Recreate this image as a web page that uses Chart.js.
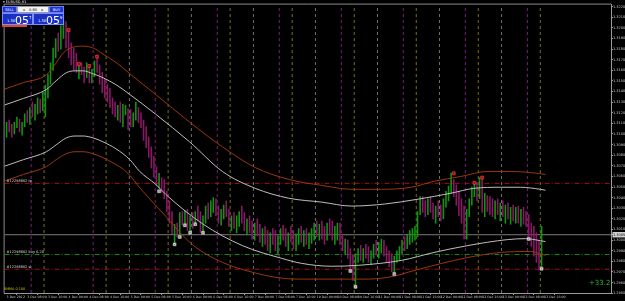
<!DOCTYPE html>
<html><head><meta charset="utf-8">
<script src="https://cdn.jsdelivr.net/npm/chart.js@4.4.1/dist/chart.umd.min.js"></script>
<style>
html,body{margin:0;padding:0;background:#000;}
#wrap{position:relative;width:625px;height:301px;overflow:hidden;background:#000;}
#c{position:absolute;left:0;top:0;}
.ov{position:absolute;font-family:'DejaVu Sans',sans-serif;white-space:nowrap;line-height:1;}
.btn{position:absolute;background:#2036c8;color:#fff;font-size:3.6px;text-align:center;border:0.5px solid #6a80ff;box-sizing:border-box;}
.big{position:absolute;background:#1a30c4;border:0.5px solid #7a8cff;box-sizing:border-box;color:#fff;}
</style></head><body>
<div id="wrap">
<canvas id="c" width="625" height="301"></canvas>
<div class="ov" style="left:3px;top:1px;font-size:3.5px;color:#e0e0e0;">▾ EURUSD,H1</div>
<div class="ov" style="left:2px;top:6px;width:62px;height:19px;">
  <div class="btn" style="left:0;top:0;width:15px;height:7px;line-height:7px;">SELL</div>
  <div class="btn" style="left:15px;top:0;width:32px;height:7px;line-height:7px;background:#f2f2f2;color:#111;border-color:#999;">◂&nbsp;&nbsp;&nbsp;&nbsp;0.80&nbsp;&nbsp;&nbsp;&nbsp;▸</div>
  <div class="btn" style="left:47px;top:0;width:15px;height:7px;line-height:7px;">BUY</div>
  <div class="big" style="left:0;top:7px;width:31px;height:12px;">
    <span class="ov" style="left:4px;top:6px;font-size:3.6px;">1.30</span>
    <span class="ov" style="left:12px;top:1px;font-size:11px;">05</span>
    <span class="ov" style="left:26px;top:1.5px;font-size:4px;">7</span>
  </div>
  <div class="big" style="left:31px;top:7px;width:31px;height:12px;">
    <span class="ov" style="left:4px;top:6px;font-size:3.6px;">1.30</span>
    <span class="ov" style="left:12px;top:1px;font-size:11px;">05</span>
    <span class="ov" style="left:26px;top:1.5px;font-size:4px;">9</span>
  </div>
</div>
<div class="ov" style="left:2px;top:25px;width:25px;height:2px;background:#e0461e;"></div>
<div class="ov" style="left:4px;top:288px;font-size:3.4px;color:#d8c000;">SMMA 0.100</div>
<div class="ov" style="left:589px;top:280px;font-size:7px;color:#2fb82f;">+33.2</div>
</div>
<script>
// ---- data (prices; bars are hourly, x = bar index) ----
const firstOpen = 1.3104;
const highs = [
1.3111,1.3113,1.3109,1.3111,1.3116,1.3114,1.3111,1.3119,1.3122,1.3125,
1.3130,1.3128,1.3134,1.3133,1.3139,1.3146,1.3156,1.3167,1.3181,1.3190,
1.3195,1.3202,1.3207,1.3206,1.3198,1.3186,1.3181,1.3176,1.3166,1.3167,
1.3163,1.3167,1.3164,1.3161,1.3169,1.3173,1.3165,1.3158,1.3152,1.3147,
1.3143,1.3134,1.3130,1.3127,1.3130,1.3128,1.3127,1.3124,1.3123,1.3120,
1.3130,1.3125,1.3120,1.3113,1.3107,1.3097,1.3088,1.3079,1.3069,1.3063,
1.3059,1.3057,1.3046,1.3037,1.3027,1.3015,1.3016,1.3026,1.3027,1.3028,
1.3029,1.3023,1.3026,1.3027,1.3032,1.3027,1.3023,1.3032,1.3035,1.3037,
1.3040,1.3039,1.3032,1.3029,1.3033,1.3037,1.3029,1.3023,1.3026,1.3023,
1.3027,1.3032,1.3026,1.3020,1.3023,1.3018,1.3016,1.3020,1.3015,1.3011,
1.3013,1.3009,1.3007,1.3011,1.3009,1.3004,1.3011,1.3014,1.3011,1.3007,
1.3013,1.3009,1.3006,1.3011,1.3013,1.3009,1.3011,1.3007,1.3011,1.3016,
1.3018,1.3015,1.3018,1.3013,1.3016,1.3020,1.3018,1.3013,1.3016,1.3016,
1.3004,1.3001,1.3000,1.2992,1.2986,1.2987,1.2992,1.2995,1.2992,1.2996,
1.2994,1.2990,1.2996,1.3000,1.2998,1.3001,1.3000,1.2994,1.2990,1.2987,
1.2985,1.2990,1.2994,1.3000,1.3003,1.3005,1.3009,1.3011,1.3013,1.3027,
1.3041,1.3041,1.3037,1.3039,1.3041,1.3035,1.3032,1.3037,1.3033,1.3039,
1.3046,1.3051,1.3063,1.3057,1.3052,1.3046,1.3039,1.3032,1.3029,1.3039,
1.3050,1.3054,1.3054,1.3059,1.3059,1.3044,1.3042,1.3041,1.3039,1.3037,
1.3039,1.3035,1.3037,1.3033,1.3035,1.3031,1.3033,1.3031,1.3032,1.3029,
1.3031,1.3027,1.3024,1.3016,1.3013,1.3007,1.3000,1.3013];
const lows = [
1.3097,1.3102,1.3097,1.3100,1.3106,1.3102,1.3099,1.3107,1.3111,1.3109,
1.3116,1.3113,1.3119,1.3120,1.3122,1.3116,1.3134,1.3147,1.3160,1.3172,
1.3178,1.3180,1.3190,1.3181,1.3172,1.3165,1.3160,1.3158,1.3152,1.3156,
1.3148,1.3153,1.3148,1.3148,1.3154,1.3158,1.3147,1.3139,1.3134,1.3130,
1.3125,1.3119,1.3116,1.3113,1.3111,1.3107,1.3118,1.3104,1.3107,1.3107,
1.3113,1.3111,1.3106,1.3094,1.3087,1.3078,1.3068,1.3059,1.3051,1.3049,
1.3045,1.3039,1.3027,1.3016,1.3006,1.2995,1.3003,1.3003,1.3014,1.3015,
1.3009,1.3007,1.3011,1.3015,1.3018,1.3007,1.3007,1.3016,1.3020,1.3022,
1.3026,1.3023,1.3016,1.3014,1.3020,1.3022,1.3013,1.3009,1.3011,1.3007,
1.3013,1.3016,1.3009,1.3005,1.3007,1.3001,1.3000,1.3004,1.2998,1.2994,
1.2996,1.2990,1.2988,1.2996,1.2990,1.2986,1.2996,1.3000,1.2994,1.2990,
1.2998,1.2992,1.2990,1.2996,1.2998,1.2994,1.2996,1.2992,1.2997,1.3000,
1.3003,1.3000,1.3001,1.2996,1.3000,1.3005,1.3000,1.2996,1.3000,1.2996,
1.2990,1.2987,1.2983,1.2971,1.2962,1.2955,1.2979,1.2981,1.2979,1.2983,
1.2979,1.2977,1.2983,1.2986,1.2983,1.2988,1.2985,1.2979,1.2975,1.2970,
1.2968,1.2979,1.2981,1.2987,1.2990,1.2992,1.2996,1.2998,1.3000,1.3003,
1.3024,1.3026,1.3022,1.3024,1.3026,1.3020,1.3016,1.3022,1.3018,1.3020,
1.3031,1.3037,1.3044,1.3041,1.3033,1.3023,1.3016,1.3001,1.3001,1.3022,
1.3033,1.3041,1.3037,1.3039,1.3026,1.3022,1.3027,1.3024,1.3022,1.3020,
1.3024,1.3018,1.3022,1.3016,1.3020,1.3015,1.3018,1.3016,1.3016,1.3013,
1.3015,1.3013,1.3001,1.2994,1.2985,1.2979,1.2972,1.2974];
const closes = [
1.3107,1.3104,1.3102,1.3109,1.3113,1.3105,1.3108,1.3116,1.3113,1.3120,
1.3119,1.3125,1.3130,1.3124,1.3134,1.3141,1.3153,1.3163,1.3176,1.3186,
1.3181,1.3197,1.3202,1.3186,1.3176,1.3169,1.3165,1.3161,1.3163,1.3158,
1.3154,1.3164,1.3156,1.3158,1.3167,1.3161,1.3150,1.3143,1.3137,1.3134,
1.3128,1.3122,1.3118,1.3124,1.3115,1.3120,1.3122,1.3119,1.3111,1.3117,
1.3127,1.3114,1.3109,1.3098,1.3091,1.3081,1.3072,1.3063,1.3054,1.3057,
1.3055,1.3041,1.3031,1.3020,1.3011,1.3013,1.3009,1.3022,1.3016,1.3026,
1.3013,1.3018,1.3015,1.3024,1.3020,1.3011,1.3020,1.3029,1.3023,1.3032,
1.3037,1.3026,1.3020,1.3026,1.3030,1.3024,1.3016,1.3020,1.3014,1.3018,
1.3024,1.3020,1.3013,1.3016,1.3011,1.3007,1.3013,1.3008,1.3001,1.3005,
1.3000,1.2995,1.3003,1.3000,1.2993,1.3000,1.3007,1.3003,1.2998,1.3004,
1.3001,1.2996,1.3001,1.3007,1.3001,1.3003,1.2999,1.3001,1.3004,1.3013,
1.3007,1.3011,1.3005,1.3001,1.3013,1.3009,1.3003,1.3009,1.3015,1.3000,
1.2994,1.2998,1.2987,1.2975,1.2966,1.2985,1.2988,1.2985,1.2990,1.2987,
1.2983,1.2988,1.2994,1.2988,1.2992,1.2998,1.2988,1.2983,1.2979,1.2974,
1.2981,1.2985,1.2990,1.2996,1.2994,1.3001,1.3003,1.3007,1.3009,1.3026,
1.3037,1.3029,1.3026,1.3035,1.3029,1.3024,1.3027,1.3026,1.3022,1.3035,
1.3041,1.3048,1.3057,1.3044,1.3037,1.3026,1.3020,1.3005,1.3026,1.3037,
1.3046,1.3050,1.3041,1.3055,1.3029,1.3037,1.3033,1.3029,1.3026,1.3033,
1.3027,1.3031,1.3026,1.3029,1.3024,1.3027,1.3022,1.3027,1.3020,1.3026,
1.3018,1.3016,1.3003,1.2996,1.2988,1.2983,1.2975,1.3005];

// band indicator (outer = orange, inner = white), sampled at bar index
const orangeUpX = [-1.2,6.5,15.4,19.2,21.9,24.6,29.6,33.5,37.3,43.1,47.7,57.7,70.8,83.5,96.2,109.2,121.9,133.5,145,156.5,165.4,175.8,186.2,195,202.7,208.5];
const orangeUp  = [1.31419,1.31484,1.31558,1.31670,1.31763,1.31809,1.31828,1.31809,1.31754,1.31660,1.31567,1.31372,1.31112,1.30879,1.30684,1.30572,1.30516,1.30479,1.30479,1.30498,1.30554,1.30600,1.30647,1.30647,1.30637,1.30619];
const whiteUpX  = [-1.2,6.5,15.4,19.2,23.1,26.5,29.6,33.5,37.3,42.3,47.7,57.7,70.8,83.5,96.2,109.2,121.9,133.5,146.2,159.2,171.9,180.8,191.2,198.8,206.5,208.5];
const whiteUp   = [1.31270,1.31335,1.31419,1.31502,1.31577,1.31595,1.31595,1.31567,1.31530,1.31465,1.31372,1.31186,1.30926,1.30647,1.30488,1.30395,1.30358,1.30321,1.30340,1.30386,1.30442,1.30488,1.30498,1.30498,1.30479,1.30470];
const whiteLowX = [-1.2,6.5,15.4,19.2,23.1,26.5,29.6,33.5,37.3,42.3,47.7,51.5,57.7,61.5,75.8,91.2,106.5,114.2,125.8,136.2,152.7,165.4,178.5,193.8,200.8,206.5,208.5];
const whiteLow  = [1.30693,1.30758,1.30833,1.30898,1.30963,1.30981,1.30981,1.30963,1.30926,1.30861,1.30758,1.30647,1.30526,1.30433,1.30154,1.29949,1.29828,1.29781,1.29754,1.29763,1.29809,1.29884,1.29949,1.30005,1.30014,1.29995,1.29986];
const orangeLowX = [-1.2,6.5,15.4,19.2,23.1,26.5,29.6,33.5,37.3,42.3,46.2,52.7,60.4,71.9,83.5,95,106.5,114.2,140,150,155.4,165.4,178.5,191.2,202.7,208.5];
const orangeLow  = [1.30554,1.30619,1.30693,1.30758,1.30814,1.30833,1.30833,1.30814,1.30777,1.30712,1.30647,1.30461,1.30256,1.29958,1.29791,1.29698,1.29642,1.29633,1.29633,1.29661,1.29698,1.29763,1.29837,1.29884,1.29893,1.29856];

// fractal markers
const lowMarkX = [59,65,67,69,71,73,76,133,135,150,202,207];
const lowMarkY = [1.3046,1.2996,1.3003,1.3014,1.3007,1.3015,1.3007,1.2971,1.2956,1.2968,1.3001,1.2973];
const highMarkX = [24,28,32,35,173,181,184];
const highMarkY = [1.3198,1.3166,1.3164,1.3173,1.3063,1.3054,1.3059];

// order levels
const orderLevels = [1.30535, 1.29865, 1.29726];
const orderLabels = ['#12298862 tp', '#12298862 buy 0.20', '#12298862 sl'];
const orderColors = ['#a01212', '#1c861c', '#a01212'];
const bidPrice = 1.30051;

// session separators (bar index)
const grayLines   = [47.5,71.5,95.5,119.5,143.5,167.5,191.5];
const purpleLines = [9.5,33.5,57.5,81.5,105.5,129.5,153.5,177.5,201.5];
const yellowLines = [14.5,38.5,62.5,86.5,110.5,134.5,158.5,182.5,206.5];

// axis labels
const timeTickBars = [0,8,16,24,32,40,48,56,64,72,80,88,96,104,112,120,128,136,144,152,160,168,176,184,192,200,208];
const timeLabels = ['3 Dec 2012','3 Dec 08:00','3 Dec 16:00','4 Dec 00:00','4 Dec 08:00','4 Dec 16:00','5 Dec 00:00','5 Dec 08:00','5 Dec 16:00','6 Dec 00:00','6 Dec 08:00','6 Dec 16:00','7 Dec 00:00','7 Dec 08:00','7 Dec 16:00','10 Dec 00:00','10 Dec 08:00','10 Dec 16:00','11 Dec 00:00','11 Dec 08:00','11 Dec 16:00','12 Dec 00:00','12 Dec 08:00','12 Dec 16:00','13 Dec 00:00','13 Dec 08:00','13 Dec 16:00'];
const priceTicks = [1.3220,1.3210,1.3200,1.3190,1.3180,1.3170,1.3160,1.3150,1.3140,1.3130,1.3120,1.3110,1.3100,1.3090,1.3080,1.3070,1.3060,1.3050,1.3040,1.3030,1.3020,1.3010,1.3000,1.2990,1.2980,1.2970,1.2960,1.2950];

// ---- chart ----
const X_MIN = -0.77, X_MAX = 233.85, Y_MIN = 1.29502, Y_MAX = 1.32219;
const UP = '#0c9a0c', DOWN = '#8e1669';

const opens = closes.map((c, i) => i === 0 ? firstOpen : closes[i - 1]);
const pts = (xs, ys) => xs.map((x, i) => ({x, y: ys[i]}));
const curve = (xs, ys, color) => ({type:'line', data: pts(xs, ys), borderColor: color, borderWidth: 1,
  pointRadius: 0, cubicInterpolationMode: 'monotone', order: 3});
const vline = (v, color) => ({type:'line', data:[{x:v,y:Y_MIN},{x:v,y:Y_MAX}], borderColor: color,
  borderWidth: 1, borderDash:[3,3], pointRadius:0, order: 10});
const hline = (v, color, dash) => ({type:'line', data:[{x:X_MIN,y:v},{x:X_MAX,y:v}], borderColor: color,
  borderWidth: 1, borderDash: dash, pointRadius:0, order: 9});

const datasets = [];
grayLines.forEach(v => datasets.push(vline(v, '#6e6e6e')));
purpleLines.forEach(v => datasets.push(vline(v, '#7a1f78')));
yellowLines.forEach(v => datasets.push(vline(v, '#77701a')));
orderLevels.forEach((v, k) => datasets.push(hline(v, orderColors[k], [5,2,1,2])));
datasets.push(hline(bidPrice, '#7a7a7a', []));
datasets.push({type:'bar', data: highs.map((h, i) => ({x: i, y: [lows[i], h]})),
  backgroundColor: c => closes[c.dataIndex] >= opens[c.dataIndex] ? UP : DOWN,
  barThickness: 0.9, borderWidth: 0, order: 5});
datasets.push(curve(orangeUpX, orangeUp, '#9a360c'));
datasets.push(curve(orangeLowX, orangeLow, '#9a360c'));
datasets.push(curve(whiteUpX, whiteUp, '#bdbdbd'));
datasets.push(curve(whiteLowX, whiteLow, '#bdbdbd'));
datasets.push({type:'line', data: pts(lowMarkX, lowMarkY), showLine:false, pointStyle:'rect', pointRadius:2.1,
  pointBackgroundColor:'#eeeeee', pointBorderColor:'#bdbdbd', pointBorderWidth:0.5, order: 2});
datasets.push({type:'line', data: pts(lowMarkX, lowMarkY), showLine:false, pointStyle:'crossRot', pointRadius:1.3,
  pointBorderColor:'#555', pointBorderWidth:0.6, order: 1});
datasets.push({type:'line', data: pts(highMarkX, highMarkY), showLine:false, pointStyle:'rect', pointRadius:2.1,
  pointBackgroundColor:'#e01818', pointBorderColor:'#ff5050', pointBorderWidth:0.5, order: 2});
datasets.push({type:'line', data: pts(highMarkX, highMarkY), showLine:false, pointStyle:'crossRot', pointRadius:1.3,
  pointBorderColor:'#600000', pointBorderWidth:0.6, order: 1});

const frameAndLabels = {
  id: 'frameAndLabels',
  afterDraw(chart) {
    const {ctx, chartArea: a, scales: {y}} = chart;
    ctx.save();
    ctx.strokeStyle = '#8a8a8a'; ctx.lineWidth = 1;
    ctx.beginPath();
    ctx.moveTo(a.left - 0.5, a.bottom); ctx.lineTo(a.left - 0.5, a.top - 0.5); ctx.lineTo(a.right, a.top - 0.5);
    ctx.stroke();
    ctx.font = '3.5px "DejaVu Sans"'; ctx.fillStyle = '#dcdcdc'; ctx.textBaseline = 'bottom'; ctx.textAlign = 'left';
    orderLevels.forEach((v, k) => ctx.fillText(orderLabels[k], a.left + 2, y.getPixelForValue(v) - 0.3));
    ctx.restore();
  }
};

new Chart(document.getElementById('c'), {
  type: 'bar',
  data: { datasets },
  plugins: [frameAndLabels],
  options: {
    responsive: false, animation: false, maintainAspectRatio: false,
    layout: { padding: { left: 1, top: 1, right: 0, bottom: 0 } },
    plugins: { legend: {display:false}, tooltip: {enabled:false} },
    scales: {
      x: {
        type: 'linear', min: X_MIN, max: X_MAX, offset: false,
        grid: { display: true, drawOnChartArea: false, tickLength: 2, color: '#9a9a9a' },
        border: { display: true, color: '#9a9a9a' },
        ticks: { autoSkip: false, maxRotation: 0, align: 'start', padding: 0.5, color: '#c8c8c8',
          font: { family: 'DejaVu Sans', size: 3.2 }, callback: (v, i) => timeLabels[i] },
        afterBuildTicks: s => { s.ticks = timeTickBars.map(v => ({value: v})); },
        afterFit: s => { s.height = 8; }
      },
      y: {
        type: 'linear', position: 'right', min: Y_MIN, max: Y_MAX,
        grid: { display: true, drawOnChartArea: false, tickLength: 2, color: '#9a9a9a' },
        border: { display: true, color: '#9a9a9a' },
        ticks: { autoSkip: false, padding: 0, font: { family: 'DejaVu Sans', size: 3.5 },
          color: c => c.tick && c.tick.value === bidPrice ? '#000' : '#c8c8c8',
          showLabelBackdrop: c => !!(c.tick && c.tick.value === bidPrice),
          backdropColor: '#d4d4d4', backdropPadding: {top:0.6, bottom:0.6, left:0.5, right:2},
          callback: v => v.toFixed(5) },
        afterBuildTicks: s => { s.ticks = priceTicks.map(v => ({value: v})).concat([{value: bidPrice}]); },
        afterFit: s => { s.width = 14; }
      }
    }
  }
});
</script>
</body></html>
